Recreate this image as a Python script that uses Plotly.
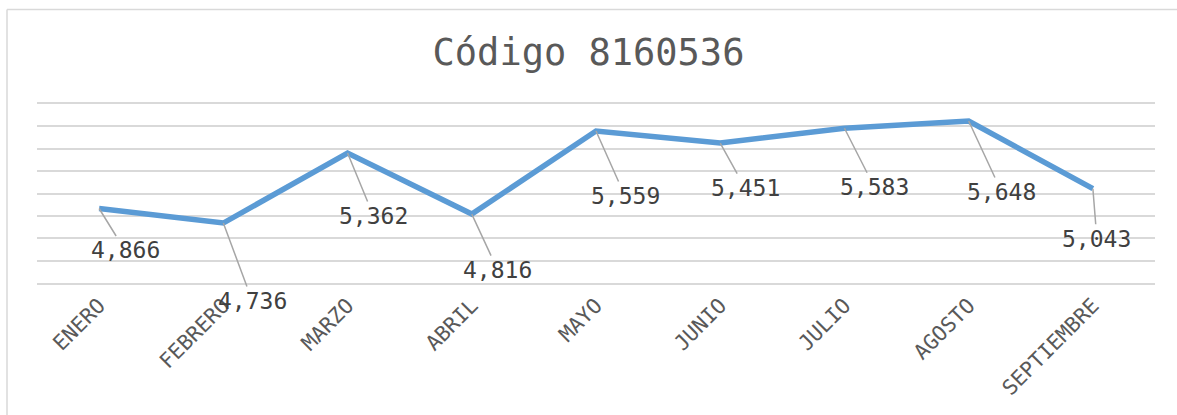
import plotly.graph_objects as go

months = ["ENERO", "FEBRERO", "MARZO", "ABRIL", "MAYO", "JUNIO", "JULIO", "AGOSTO", "SEPTIEMBRE"]
values = [4866, 4736, 5362, 4816, 5559, 5451, 5583, 5648, 5043]
label_dx = [26, 29, 26, 26, 29, 25, 30, 33, 4]
label_dy = [42, 78, 63, 56, 65, 45, 59, 71, 50]

FONT = "DejaVu Sans Mono"
GRID = "#d9d9d9"

fig = go.Figure()
fig.add_trace(go.Scatter(
    x=months, y=values, mode="lines",
    line=dict(color="#5b9bd5", width=5.5),
    hoverinfo="skip", showlegend=False,
))

for m, v, dx, dy in zip(months, values, label_dx, label_dy):
    fig.add_annotation(
        x=m, y=v, xref="x", yref="y",
        text=f"{v:,}", showarrow=True, arrowhead=0, arrowwidth=1.5,
        arrowcolor="#a6a6a6", ax=dx, ay=dy, standoff=0,
        font=dict(family=FONT, size=23, color="#404040"),
    )

W, H = 1177, 415
L, R, T, B = 37, 22, 104, 132
pw, ph = W - L - R, H - T - B
fig.add_shape(type="line", xref="paper", yref="paper",
              x0=(7 - L) / pw, x1=(7 - L) / pw, y0=-2, y1=1 + (T - 9.5) / ph,
              line=dict(color=GRID, width=1.5))
fig.add_shape(type="line", xref="paper", yref="paper",
              x0=(7 - L) / pw, x1=2, y0=1 + (T - 9.5) / ph, y1=1 + (T - 9.5) / ph,
              line=dict(color=GRID, width=1.5))

fig.update_layout(
    width=W, height=H,
    margin=dict(l=L, r=R, t=T, b=B, autoexpand=False),
    paper_bgcolor="white", plot_bgcolor="white",
    title=dict(text="Código 8160536", x=0.5, xanchor="center",
               y=1 - 52 / H, yanchor="middle", yref="container",
               font=dict(family=FONT, size=37, color="#595959")),
    xaxis=dict(showgrid=False, tickangle=-45, ticks="", range=[-0.5, 8.5],
               automargin=False, mirror=True,
               showline=True, linecolor=GRID, linewidth=2,
               tickfont=dict(family=FONT, size=21, color="#595959")),
    yaxis=dict(range=[4200, 5800], dtick=200, tick0=4200, showticklabels=False,
               showgrid=True, gridcolor=GRID, gridwidth=2, zeroline=False,
               ticks="", automargin=False),
)

fig.write_html("out.html", config={"displayModeBar": False},
               post_script="document.body.style.margin='0';")
